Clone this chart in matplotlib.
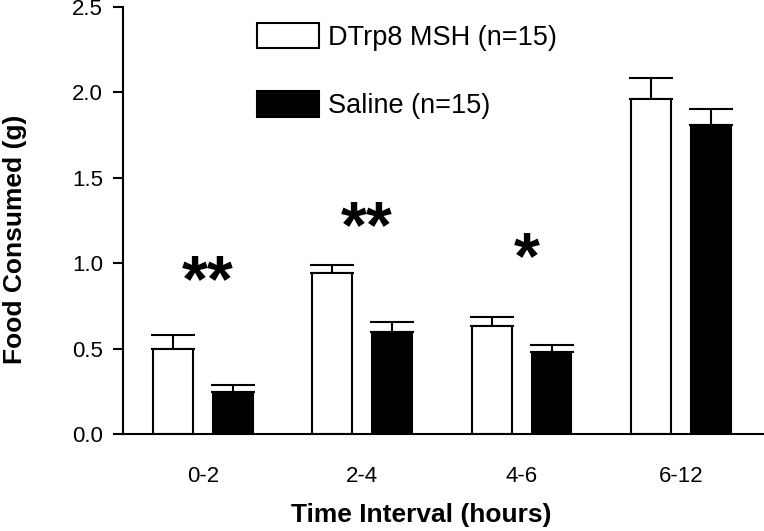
import numpy as np
import matplotlib
matplotlib.use('Agg')
import matplotlib.pyplot as plt

plt.rcParams['font.family'] = ['Liberation Sans', 'DejaVu Sans']

# Food intake per time interval (g), mean and SEM
intervals = ['0-2', '2-4', '4-6', '6-12']
msh_mean = [0.50, 0.94, 0.63, 1.96]
msh_sem = [0.08, 0.05, 0.055, 0.125]
saline_mean = [0.245, 0.60, 0.48, 1.81]
saline_sem = [0.042, 0.056, 0.042, 0.09]
stars = ['**', '**', '*', '']
star_y = [0.875, 1.195, 1.01, 0]

x = np.arange(len(intervals))
w = 0.25
off = 0.1875

fig = plt.figure(figsize=(7.64, 5.31), dpi=100)
ax = fig.add_axes([123/764, 1 - 434/531, 1 - 123/764, (434 - 7)/531])

b1 = ax.bar(x - off, msh_mean, w, color='white', edgecolor='black', linewidth=1.5,
            label='DTrp8 MSH (n=15)', zorder=2)
b2 = ax.bar(x + off, saline_mean, w, color='black', edgecolor='black', linewidth=1.5,
            label='Saline (n=15)', zorder=2)
ax.errorbar(x - off, msh_mean, yerr=[np.zeros(4), msh_sem], fmt='none', ecolor='black',
            elinewidth=1.5, capsize=15.6, capthick=1.5, zorder=1)
ax.errorbar(x + off, saline_mean, yerr=[np.zeros(4), saline_sem], fmt='none', ecolor='black',
            elinewidth=1.5, capsize=15.6, capthick=1.5, zorder=1)

for xi, s, ys in zip(x, stars, star_y):
    if s:
        ax.text(xi + 0.03, ys, s, ha='center', va='center', fontsize=48, fontweight='bold')

ax.set_xlim(-0.5, 3.52)
ax.set_ylim(0, 2.5)
ax.set_yticks(np.arange(0, 2.51, 0.5))
ax.set_yticklabels(['%.1f' % v for v in np.arange(0, 2.51, 0.5)])
ax.set_xticks(x)
ax.set_xticklabels(intervals)
ax.tick_params(axis='y', length=7, width=1.5, pad=7.5, labelsize=16)
ax.tick_params(axis='x', length=0, pad=23, labelsize=16)
for side in ['top', 'right']:
    ax.spines[side].set_visible(False)
for side in ['left', 'bottom']:
    ax.spines[side].set_linewidth(1.5)

fig.text(15/764, 1 - 239/531, 'Food Consumed (g)', rotation=90, ha='center', va='center',
         fontsize=19, fontweight='bold')
fig.text(421/764, 1 - 515/531, 'Time Interval (hours)', ha='center', va='center',
         fontsize=19, fontweight='bold')

ax.legend(handles=[b1, b2], loc='upper left', bbox_to_anchor=(257/764, 1 - 23/531),
          bbox_transform=fig.transFigure, frameon=False, fontsize=19.5, borderpad=0,
          borderaxespad=0, handlelength=2.3, handleheight=1.05, handletextpad=0.33,
          labelspacing=1.5)

fig.savefig('out.png', dpi=100)
